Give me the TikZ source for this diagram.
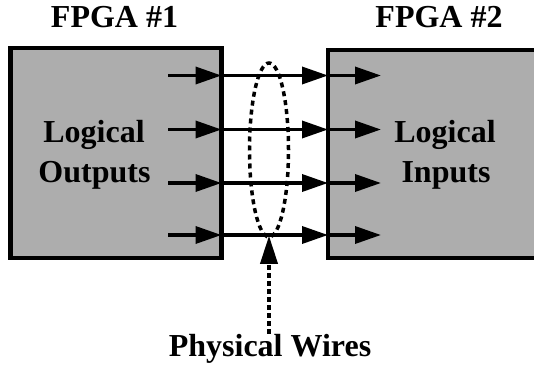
\documentclass[tikz,border=0pt]{standalone}
\usepackage{fontspec}
\setmainfont{Liberation Serif}
\usetikzlibrary{arrows.meta,shapes.geometric}
\begin{document}
\begin{tikzpicture}[x=1pt,y=-1pt,
  fpga/.style={draw=black,line width=4.5pt,fill=black!32,inner sep=0pt},
  lbl/.style={font=\fontsize{32}{40}\selectfont\bfseries,inner sep=0pt,anchor=base},
  sig/.style={line width=3.5pt,-{Triangle[length=26pt,width=17pt]}},
  bundle/.style={draw,ellipse,line width=3.5pt,dash pattern=on 5pt off 4pt,inner sep=0pt,minimum width=39pt,minimum height=174pt},
  pointer/.style={line width=3.5pt,dash pattern=on 5pt off 3pt,-{Triangle[length=28pt,width=17pt]}},
]
\useasboundingbox (0,0) rectangle (534,369);
\begin{scope}
\clip (0,0) rectangle (534,369);
\node[fpga,minimum width=211pt,minimum height=210pt] (f1) at (115.75,153) {};
\node[fpga,minimum width=232pt,minimum height=208pt] (f2) at (444,154) {};
\end{scope}
\node[lbl] (t1) at (114.5,28) {FPGA \#1};
\node[lbl] (t2) at (439,28) {FPGA \#2};
\node[lbl] (lo1) at (94,142) {Logical};
\node[lbl] (lo2) at (94.5,182) {Outputs};
\node[lbl] (li1) at (445,142) {Logical};
\node[lbl] (li2) at (446,182) {Inputs};
\foreach \i/\y in {1/75.5,2/129.5,3/183,4/235}{
  \coordinate (s\i) at (168,\y);
  \coordinate (m\i) at (221.5,\y);
  \coordinate (n\i) at (328,\y);
  \coordinate (e\i) at (381,\y);
  \draw[sig] (s\i) -- (m\i);
  \draw[sig] (m\i) -- (n\i);
  \draw[sig] (n\i) -- (e\i);
}
\node[bundle] (bw) at (269,150) {};
\node[lbl] (pw) at (270,356) {Physical Wires};
\draw[pointer] (bw.south |- pw.north) -- ([yshift=3pt]bw.south);
\end{tikzpicture}
\end{document}
